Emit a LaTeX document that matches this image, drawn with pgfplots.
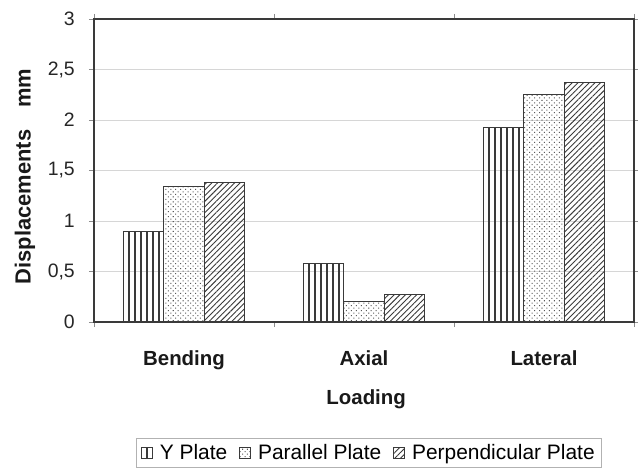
\documentclass[border=0pt]{standalone}
\usepackage{fontspec}
\setmainfont{Liberation Sans}
\usepackage{pgfplots}
\usepackage{pgfplotstable}
\pgfplotsset{compat=1.18}
\usetikzlibrary{patterns,patterns.meta}

\definecolor{edge}{HTML}{3A3A3A}
\definecolor{gridc}{HTML}{D6D6D6}

% vertical stripes; tiles overlap vertically so no seams show
\pgfdeclarepatternformonly{vstripes}{\pgfqpoint{0bp}{-2bp}}{\pgfqpoint{6bp}{26bp}}{\pgfqpoint{6bp}{24bp}}{%
  \pgfpathrectangle{\pgfqpoint{2.2bp}{-2bp}}{\pgfqpoint{1.6bp}{28bp}}\pgfusepath{fill}}

% displacement (mm) per loading case
\pgfplotstableread{
cat yplate parallel perp
0   0.90   1.34     1.38
1   0.58   0.20     0.27
2   1.93   2.25     2.37
}\disp

\begin{document}
\begin{tikzpicture}
\path[use as bounding box] (-94bp,-152bp) rectangle (544bp,322bp);
\begin{axis}[
    scale only axis, width=540bp, height=303bp,
    at={(0,0)}, anchor=south west,
    ybar=0pt, bar width=0.225,
    xmin=-0.5, xmax=2.5, ymin=0, ymax=3,
    xtick={0,1,2}, xticklabels={Bending,Axial,Lateral},
    minor xtick={-0.5,0.5,1.5,2.5},
    ytick={0,0.5,1,1.5,2,2.5,3},
    /pgf/number format/.cd, fixed, use comma, assume math mode=true, /pgfplots/.cd,
    tick align=outside,
    major tick length=5bp, minor tick length=5bp,
    tick style={draw=black!45, line width=0.8bp},
    major x tick style={draw=none},
    ymajorgrids, major grid style={draw=gridc, line width=0.8bp},
    axis line style={draw=edge, line width=1.3bp},
    yticklabel style={font=\fontsize{19.5}{22}\selectfont, text=black!85, inner sep=0pt, anchor=east, xshift=-14bp},
    xticklabel style={font=\bfseries\fontsize{20.5}{24}\selectfont, text=black!90, inner sep=0pt, anchor=north, yshift=-23bp},
    ylabel={Displacements\quad mm},
    ylabel style={font=\bfseries\fontsize{22}{26}\selectfont, text=black!90, at={(axis description cs:-0.128,0.48)}, anchor=center, inner sep=0pt},
    xlabel={Loading},
    xlabel style={font=\bfseries\fontsize{20.5}{24}\selectfont, text=black!90, at={(axis description cs:0.504,-0.222)}, anchor=north, inner sep=0pt},
    legend columns=-1,
    legend style={at={(axis description cs:0.509,-0.384)}, anchor=north,
        draw=black!30, line width=0.8bp, font=\fontsize{21}{25}\selectfont,
        inner xsep=5bp, inner ysep=4bp,
        /tikz/every odd column/.append style={column sep=5bp},
        /tikz/every even column/.append style={column sep=10bp}},
    leg/.style={legend image code/.code={\draw[##1, line width=0.8bp] (0bp,-5.5bp) rectangle (11bp,5.5bp);}},
]
\addplot[leg, draw=edge, line width=1bp, pattern=vstripes, pattern color=edge]
    table[x=cat, y=yplate] {\disp};
\addlegendentry{Y Plate}
\addplot[leg, draw=edge, line width=1bp, pattern={Dots[angle=45,distance=3.5bp,radius=0.72bp]}, pattern color=black!65]
    table[x=cat, y=parallel] {\disp};
\addlegendentry{Parallel Plate}
\addplot[leg, draw=edge, line width=1bp, pattern={Lines[angle=45,distance=4bp,line width=0.9bp]}, pattern color=edge]
    table[x=cat, y=perp] {\disp};
\addlegendentry{Perpendicular Plate}
\end{axis}
\end{tikzpicture}
\end{document}
